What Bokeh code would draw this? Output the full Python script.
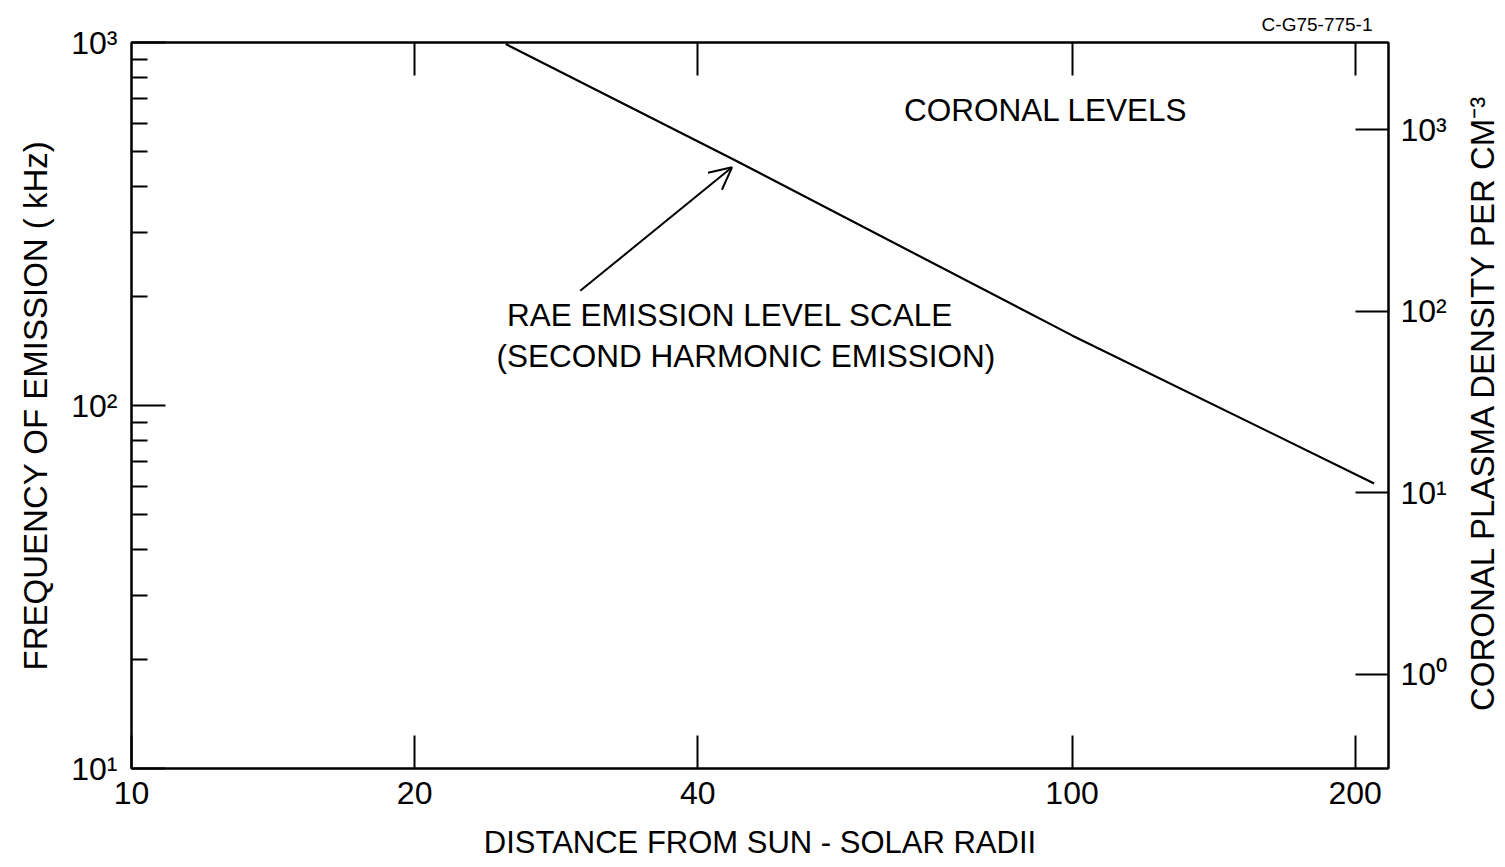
import math
from bokeh.plotting import figure
from bokeh.layouts import row
from bokeh.models import (LogAxis, FixedTicker, Range1d, Label, Arrow, OpenHead, LogScale)
from bokeh.embed import file_html
from bokeh.resources import INLINE

# ---- data ----
distance = [25, 43.4, 100, 209.5]          # solar radii
frequency = [990, 480, 156, 61]             # kHz

x_ticks = [10, 20, 40, 100, 200]
x_tick_labels = ["10", "20", "40", "100", "200"]
top_ticks = [20, 40, 100, 200]
y_major = [10, 100, 1000]
y_minor = [m * 10 ** k for k in (1, 2) for m in range(2, 10)]
y_labels = ["10¹", "10²", "10³"]
dens_major = [1, 10, 100, 1000]
dens_labels = ["10⁰", "10¹", "10²", "10³"]
density_per_f2 = 0.00303   # n (cm^-3) = c * f(kHz)^2 (second harmonic)

x_lo, x_hi = 10, 217
y_lo, y_hi = 10, 1000

FONT = "Liberation Sans"

W, H = 1450, 862       # main figure
SIDE_W = 50            # strip holding the right-hand axis title

p = figure(width=W, height=H, x_axis_type="log", y_axis_type="log",
           x_range=Range1d(x_lo, x_hi), y_range=Range1d(y_lo, y_hi),
           output_backend="svg", toolbar_location=None,
           min_border_left=131, min_border_right=W - 1388,
           min_border_top=42, min_border_bottom=H - 768)
p.grid.visible = False
p.outline_line_color = "black"
p.outline_line_width = 2
p.background_fill_color = "white"
p.border_fill_color = "white"

def style_axis(ax, font_size="32px"):
    ax.major_tick_out = 0
    ax.minor_tick_out = 0
    ax.axis_line_width = 2
    ax.axis_line_color = "black"
    ax.major_tick_line_width = 2
    ax.minor_tick_line_width = 2
    ax.major_tick_line_color = "black"
    ax.minor_tick_line_color = "black"
    ax.major_label_text_font = FONT
    ax.major_label_text_font_size = font_size
    ax.major_label_text_color = "black"
    ax.axis_label_text_font = FONT
    ax.axis_label_text_font_style = "normal"
    ax.axis_label_text_color = "black"

# bottom axis
xa = p.xaxis[0]
xa.ticker = FixedTicker(ticks=x_ticks, minor_ticks=[])
xa.major_label_overrides = {t: l for t, l in zip(x_ticks, x_tick_labels)}
style_axis(xa)
xa.major_tick_in = 33
xa.minor_tick_in = 0
xa.major_label_standoff = 13
xa.axis_label = "DISTANCE FROM SUN - SOLAR RADII"
xa.axis_label_text_font_size = "31px"
xa.axis_label_standoff = 18

# left axis
ya = p.yaxis[0]
ya.ticker = FixedTicker(ticks=y_major, minor_ticks=y_minor)
ya.major_label_overrides = {t: l for t, l in zip(y_major, y_labels)}
style_axis(ya)
ya.major_tick_in = 34
ya.minor_tick_in = 16
ya.major_label_standoff = 14
ya.axis_label = "FREQUENCY OF EMISSION ( kHz)"
ya.axis_label_text_font_size = "33px"
ya.axis_label_standoff = 14

# top axis (ticks only)
ta = LogAxis(ticker=FixedTicker(ticks=top_ticks, minor_ticks=[]))
style_axis(ta)
ta.major_tick_in = 33
ta.minor_tick_in = 0
ta.major_label_overrides = {t: "" for t in top_ticks}
ta.major_label_standoff = 0
p.add_layout(ta, "above")

# right axis: coronal plasma density
p.extra_y_ranges = {"dens": Range1d(density_per_f2 * y_lo ** 2, density_per_f2 * y_hi ** 2)}
p.extra_y_scales = {"dens": LogScale()}
ra = LogAxis(y_range_name="dens", ticker=FixedTicker(ticks=dens_major, minor_ticks=[]))
ra.major_label_overrides = {t: l for t, l in zip(dens_major, dens_labels)}
style_axis(ra)
ra.major_tick_in = 33
ra.minor_tick_in = 0
ra.major_label_standoff = 12
p.add_layout(ra, "right")

# title / figure number
p.title.text = "C-G75-775-1"
p.title.align = "right"
p.title.text_font = FONT
p.title.text_font_size = "19px"
p.title.text_font_style = "normal"
p.title.text_color = "black"
p.title.offset = 16
p.title.standoff = 16

# curve
p.line(distance, frequency, line_width=2.2, line_color="black")

def lab(fig, x, y, text, size, angle=0):
    fig.add_layout(Label(x=x, y=y, text=text, text_align="center", text_baseline="middle",
                         text_font=FONT, text_font_size=size, text_color="black", angle=angle))

# annotations
lab(p, 93.8, 650, "CORONAL LEVELS", "31.5px")
lab(p, 43.3, 177, "RAE EMISSION LEVEL SCALE", "31.5px")
lab(p, 45.0, 137, "(SECOND HARMONIC EMISSION)", "31.5px")
p.add_layout(Arrow(end=OpenHead(size=22, line_width=2, line_color="black"),
                   x_start=30.0, y_start=207, x_end=43.5, y_end=453,
                   line_width=2, line_color="black"))

# right-hand strip with the density axis title (reads bottom to top)
side = figure(width=SIDE_W, height=H, x_range=Range1d(0, SIDE_W), y_range=Range1d(0, H),
              output_backend="svg", toolbar_location=None, title=None,
              x_axis_location=None, y_axis_location=None, min_border=0)
side.grid.visible = False
side.outline_line_color = None
side.background_fill_color = "white"
side.border_fill_color = "white"
lab(side, 32, H - 427, "CORONAL PLASMA DENSITY PER CM⁻³", "33px", angle=math.pi / 2)

layout = row(p, side)
open("out.html", "w").write(file_html(layout, INLINE))
